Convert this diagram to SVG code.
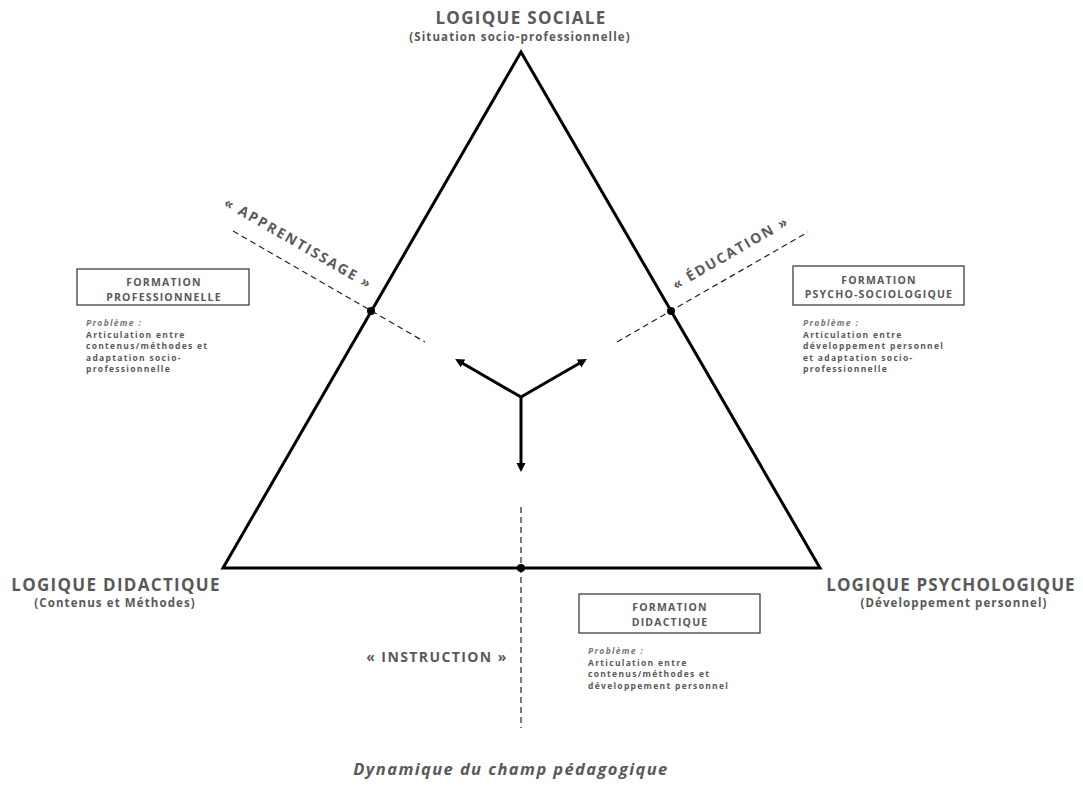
<svg xmlns="http://www.w3.org/2000/svg" width="1083" height="789" viewBox="0 0 1083 789">
<defs>
<style>
.t{font-family:"Open Sans","Liberation Sans",sans-serif;font-weight:700;fill:#595959}
.logic{font-size:17px;letter-spacing:1.3px;text-anchor:middle}
.sub{font-size:11.5px;letter-spacing:1.1px;text-anchor:middle}
.box{fill:#fff;stroke:#404040;stroke-width:1.3}
.bt{font-size:10.5px;letter-spacing:1.2px;text-anchor:middle}
.pb{font-size:8.5px;letter-spacing:1.3px}
.pbi{font-style:italic;fill:#767676}
.dash{stroke:#222;stroke-width:1.2;stroke-dasharray:6 4;fill:none}
.tri{fill:none;stroke:#000;stroke-width:3;stroke-linejoin:miter}
.arr{stroke:#000;stroke-width:3;fill:none;marker-end:url(#ah)}
.lbl{font-size:14px;letter-spacing:1.9px;text-anchor:middle}
</style>
<marker id="ah" markerUnits="userSpaceOnUse" markerWidth="10" markerHeight="10" refX="1" refY="4.5" orient="auto">
<path d="M0,0 L9,4.5 L0,9 z" fill="#000"/>
</marker>
</defs>
<rect width="1083" height="789" fill="#fff"/>

<g id="connectors">
<line class="dash" x1="233" y1="231" x2="425" y2="342"/>
<line class="dash" x1="617" y1="342" x2="808" y2="232"/>
<line class="dash" x1="521" y1="507" x2="521" y2="728"/>
<line class="arr" x1="521" y1="397" x2="521" y2="464"/>
<line class="arr" x1="521" y1="397" x2="462.1" y2="363"/>
<line class="arr" x1="521" y1="397" x2="579.9" y2="363"/>
</g>

<g id="triangle">
<polygon class="tri" points="521,52 223,568 820,568"/>
<circle cx="371" cy="311" r="4" fill="#000"/>
<circle cx="671" cy="311" r="4" fill="#000"/>
<circle cx="521" cy="568" r="4" fill="#000"/>
</g>

<g id="logique-sociale">
<text class="t logic" x="521" y="24">LOGIQUE SOCIALE</text>
<text class="t sub" x="520" y="41">(Situation socio-professionnelle)</text>
</g>
<g id="logique-didactique">
<text class="t logic" x="116" y="591">LOGIQUE DIDACTIQUE</text>
<text class="t sub" x="115" y="607">(Contenus et Méthodes)</text>
</g>
<g id="logique-psychologique">
<text class="t logic" x="951" y="591" style="letter-spacing:1.1px">LOGIQUE PSYCHOLOGIQUE</text>
<text class="t sub" x="954" y="607">(Développement personnel)</text>
</g>

<g id="apprentissage">
<text class="t lbl" transform="translate(296,247.5) rotate(30)">« APPRENTISSAGE »</text>
</g>
<g id="education">
<text class="t lbl" transform="translate(733,257) rotate(-30)">« ÉDUCATION »</text>
</g>
<g id="instruction">
<text class="t" x="437" y="662" style="font-size:14px;letter-spacing:1.4px;text-anchor:middle">« INSTRUCTION »</text>
</g>

<g id="formation-professionnelle">
<rect class="box" x="77" y="269" width="172" height="36"/>
<text class="t bt" x="164" y="286">FORMATION</text>
<text class="t bt" x="164" y="301">PROFESSIONNELLE</text>
<text class="t pb" x="86" y="326"><tspan class="pbi">Problème :</tspan><tspan x="86" y="337.5">Articulation entre</tspan><tspan x="86" y="349">contenus/méthodes et</tspan><tspan x="86" y="360.5">adaptation socio-</tspan><tspan x="86" y="372">professionnelle</tspan></text>
</g>

<g id="formation-psycho-sociologique">
<rect class="box" x="793" y="266" width="171" height="39"/>
<text class="t bt" x="879" y="283.5">FORMATION</text>
<text class="t bt" x="879" y="298">PSYCHO-SOCIOLOGIQUE</text>
<text class="t pb" x="803" y="326"><tspan class="pbi">Problème :</tspan><tspan x="803" y="337.5">Articulation entre</tspan><tspan x="803" y="349">développement personnel</tspan><tspan x="803" y="360.5">et adaptation socio-</tspan><tspan x="803" y="372">professionnelle</tspan></text>
</g>

<g id="formation-didactique">
<rect class="box" x="579" y="594" width="181" height="39"/>
<text class="t bt" x="670" y="611">FORMATION</text>
<text class="t bt" x="670" y="625.5">DIDACTIQUE</text>
<text class="t pb" x="588" y="654"><tspan class="pbi">Problème :</tspan><tspan x="588" y="665.5">Articulation entre</tspan><tspan x="588" y="677">contenus/méthodes et</tspan><tspan x="588" y="688.5">développement personnel</tspan></text>
</g>

<g id="caption">
<text class="t" x="511" y="775" style="font-size:16.5px;font-style:italic;letter-spacing:1.4px;text-anchor:middle">Dynamique du champ pédagogique</text>
</g>
</svg>
